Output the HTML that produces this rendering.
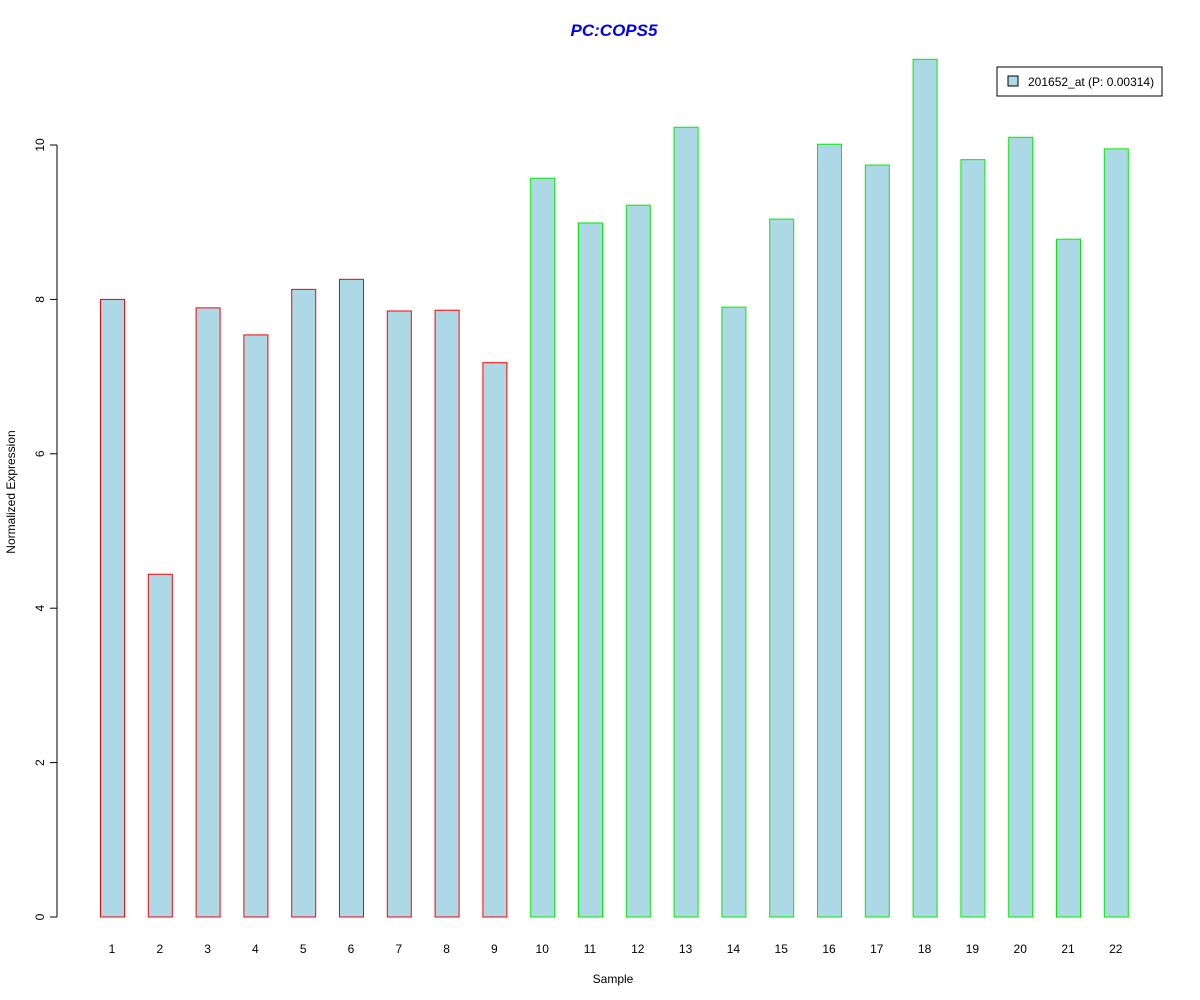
<!DOCTYPE html>
<html><head><meta charset="utf-8"><style>
html,body{margin:0;padding:0;background:#fff;}
svg{display:block;font-family:"Liberation Sans",Arial,sans-serif;}
</style></head><body>
<svg id="chart" width="1200" height="1000" viewBox="0 0 1200 1000">
<rect width="1200" height="1000" fill="#fff"/>
<text x="614" y="36" text-anchor="middle" font-size="17" font-weight="bold" font-style="italic" fill="#0000ee">PC:COPS5</text>
<text transform="translate(15,492) rotate(-90)" text-anchor="middle" font-size="12" fill="#000">Normalized Expression</text>
<text x="613" y="983" text-anchor="middle" font-size="12" fill="#000">Sample</text>
<g id="yaxis"></g>
<g id="bars"></g>
<g id="xlabels"></g>
<g>
<rect x="997" y="67" width="165" height="29" fill="#fff" stroke="#000" stroke-width="1"/>
<rect x="1008" y="76" width="10" height="10" fill="#add8e6" stroke="#000" stroke-width="1"/>
<text x="1028" y="86" font-size="12" fill="#000">201652_at (P: 0.00314)</text>
</g>
</svg>
<script>
const categories = ["1","2","3","4","5","6","7","8","9","10","11","12","13","14","15","16","17","18","19","20","21","22"];
const values = [8.0,4.44,7.89,7.54,8.13,8.26,7.85,7.86,7.18,9.57,8.99,9.22,10.23,7.90,9.04,10.01,9.74,11.11,9.81,10.10,8.78,9.95];
const groups = ["a","a","a","a","a","a","a","a","a","b","b","b","b","b","b","b","b","b","b","b","b","b"];
const yTicks = [0,2,4,6,8,10];
const NS = "http://www.w3.org/2000/svg";
const y = v => 917 - v * 77.2;
const x = i => 112 + i * 47.8;
const bw = 24;
const ya = document.getElementById("yaxis");
const l = document.createElementNS(NS, "line");
l.setAttribute("x1", 57); l.setAttribute("x2", 57);
l.setAttribute("y1", y(yTicks[0])); l.setAttribute("y2", y(yTicks[yTicks.length-1]));
l.setAttribute("stroke", "#000");


ya.appendChild(l);
yTicks.forEach(t => {
  const tk = document.createElementNS(NS, "line");
  tk.setAttribute("x1", 50); tk.setAttribute("x2", 57);
  tk.setAttribute("y1", y(t)); tk.setAttribute("y2", y(t));
  tk.setAttribute("stroke", "#000");
  
  
  ya.appendChild(tk);
  const tx = document.createElementNS(NS, "text");
  tx.setAttribute("transform", `translate(44,${y(t)}) rotate(-90)`);
  tx.setAttribute("text-anchor", "middle");
  tx.setAttribute("font-size", "12");
  tx.textContent = t;
  
  
  ya.appendChild(tx);
});
const bg = document.getElementById("bars");
const xl = document.getElementById("xlabels");
values.forEach((v, i) => {
  const r = document.createElementNS(NS, "rect");
  r.setAttribute("x", x(i) - bw/2 + 0.5);
  r.setAttribute("y", y(v));
  r.setAttribute("width", bw);
  r.setAttribute("height", y(0) - y(v));
  r.setAttribute("fill", "#add8e6");
  r.setAttribute("stroke", groups[i] === "a" ? "#ff0000" : "#00ee00");
  r.setAttribute("stroke-width", "1");
  
  
  bg.appendChild(r);
  const t = document.createElementNS(NS, "text");
  t.setAttribute("x", x(i)); t.setAttribute("y", 953);
  t.setAttribute("text-anchor", "middle");
  t.setAttribute("font-size", "12");
  t.textContent = categories[i];
  
  
  xl.appendChild(t);
});
</script>
</body></html>
